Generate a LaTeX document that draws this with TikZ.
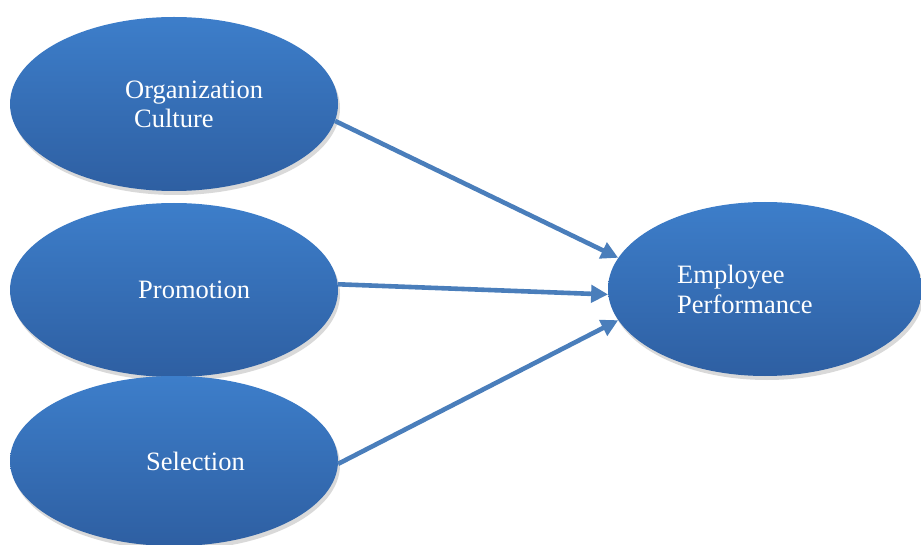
\documentclass[tikz,border=0pt]{standalone}
\usepackage{fontspec}
\setmainfont{Liberation Serif}
\usetikzlibrary{shapes.geometric,arrows.meta,shadows}
\definecolor{ovtop}{RGB}{61,126,202}
\definecolor{ovbot}{RGB}{46,95,162}
\definecolor{arr}{RGB}{74,126,187}
\tikzset{
  oval/.style={ellipse, inner sep=0pt, minimum width=328pt, minimum height=174pt,
    top color=ovtop, bottom color=ovbot, draw=none,
    drop shadow={shadow xshift=2pt, shadow yshift=-4pt, opacity=0.25, fill=black!60}},
  lbl/.style={anchor=base west, inner sep=0pt, text=white, font=\fontsize{26.5}{29}\selectfont},
  link/.style={draw=arr, line width=4.6pt, -{Triangle[length=17pt,width=17pt]}}
}
\begin{document}
\begin{tikzpicture}[x=1pt,y=-1pt]
\useasboundingbox (0,0) rectangle (921,545);
\node[oval] (oc) at (174,104) {};
\node[oval] (pr) at (174,290) {};
\node[oval, minimum height=170pt] (se) at (174,461) {};
\node[oval, minimum width=314pt] (ep) at (765,289) {};
\node[lbl] (t1) at (125,99) {Organization};
\node[lbl] (t2) at (134,128) {Culture};
\node[lbl] (t3) at (138,299) {Promotion};
\node[lbl] (t4) at (146,470) {Selection};
\node[lbl] (t5) at (677,284) {Employee};
\node[lbl] (t6) at (677,314) {Performance};
\draw[link] (oc.-6) -- (ep.168);
\draw[link] (pr.2) -- (ep.182);
\draw[link] (se.-1) -- (ep.192);
\end{tikzpicture}
\end{document}
